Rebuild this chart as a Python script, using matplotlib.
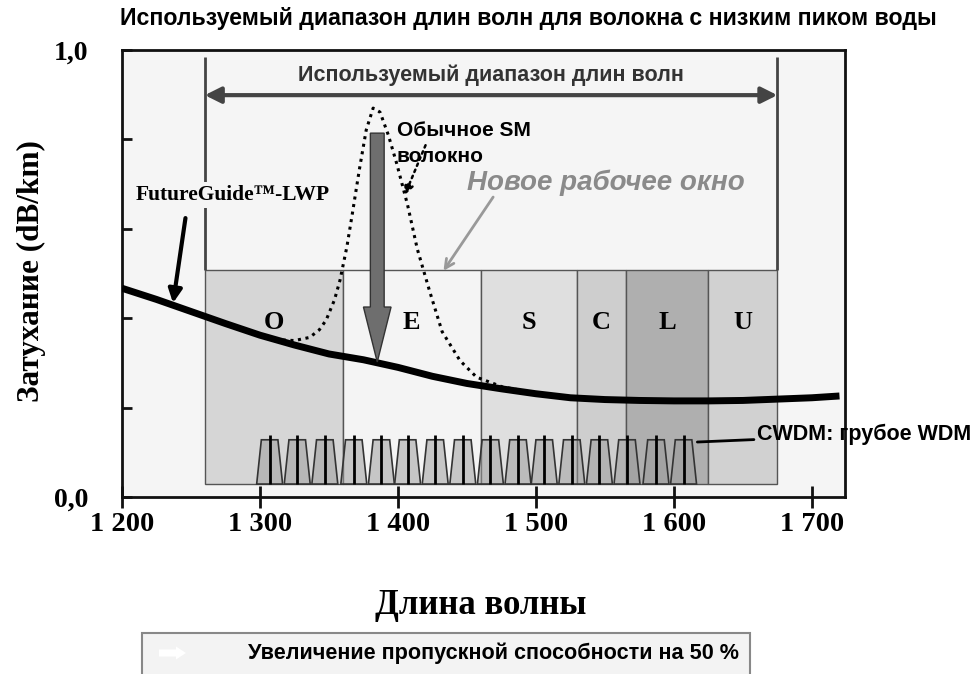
import matplotlib
matplotlib.use("Agg")
import matplotlib.pyplot as plt
from matplotlib.patches import Rectangle, Polygon, FancyArrow

# attenuation of the low water peak fibre (thick black curve)
lwp_wl = [1200, 1225, 1250, 1275, 1300, 1325, 1350, 1375, 1400, 1425, 1450,
          1475, 1500, 1525, 1550, 1575, 1600, 1625, 1650, 1675, 1700, 1720]
lwp_att = [0.467, 0.442, 0.415, 0.388, 0.362, 0.340, 0.320, 0.307, 0.290, 0.270, 0.254,
           0.242, 0.231, 0.222, 0.218, 0.216, 0.215, 0.215, 0.216, 0.219, 0.222, 0.226]

# conventional SM fibre around the water peak (dotted curve)
sm_wl = [1311, 1325, 1336, 1343, 1348, 1354, 1358, 1363, 1367, 1372, 1377, 1382,
         1387, 1393, 1399, 1407, 1414, 1423, 1432, 1445, 1457, 1476, 1500, 1520]
sm_att = [0.352, 0.350, 0.357, 0.374, 0.396, 0.441, 0.485, 0.560, 0.635, 0.732, 0.821, 0.870,
          0.861, 0.810, 0.747, 0.653, 0.555, 0.460, 0.370, 0.305, 0.268, 0.246, 0.233, 0.225]

# spectral bands
band_names = ["O", "E", "S", "C", "L", "U"]
band_start = [1260, 1360, 1460, 1530, 1565, 1625]
band_end = [1360, 1460, 1530, 1565, 1625, 1675]
band_colors = ["#d6d6d6", "#f4f4f4", "#dfdfdf", "#cecece", "#afafaf", "#d1d1d1"]

# CWDM channel centres
cwdm = [1307, 1327, 1347, 1368, 1388, 1407, 1427, 1447, 1467, 1487,
        1506, 1526, 1546, 1566, 1587, 1607]

x_ticks = [1200, 1300, 1400, 1500, 1600, 1700]
x_labels = ["1 200", "1 300", "1 400", "1 500", "1 600", "1 700"]
y_ticks = [0.0, 0.2, 0.4, 0.6, 0.8, 1.0]
y_labels = ["0,0", "", "", "", "", "1,0"]

SERIF = "Liberation Serif"
SANS = "Liberation Sans"
BG = "#f5f5f5"

band_lo, band_hi = 0.029, 0.508
span_top = 0.984

fig = plt.figure(figsize=(9.74, 6.74), dpi=100)
ax = fig.add_axes([122 / 974, 1 - 497 / 674, 723 / 974, 447 / 674])
ax.set_facecolor(BG)
ax.set_xlim(1200, 1724)
ax.set_ylim(0, 1.0)

for side in ax.spines.values():
    side.set_linewidth(2.0)
    side.set_color("#111111")

ax.set_xticks(x_ticks)
ax.set_xticklabels(x_labels, fontfamily=SERIF, fontweight="bold", fontsize=20.5)
ax.set_yticks(y_ticks)
ax.set_yticklabels(y_labels, fontfamily=SERIF, fontweight="bold", fontsize=20)
ax.tick_params(axis="x", direction="inout", length=16, width=2, pad=3, color="#111111")
ax.tick_params(axis="y", direction="in", length=7, width=2, pad=24, color="#111111")

# bands
for name, s, e, c in zip(band_names, band_start, band_end, band_colors):
    ax.add_patch(Rectangle((s, band_lo), e - s, band_hi - band_lo, facecolor=c,
                           edgecolor="#555555", lw=1, zorder=1))
    ax.text((s + e) / 2, 0.39, name, ha="center", va="center", fontfamily=SERIF,
            fontweight="bold", fontsize=19, zorder=6)

# usable range markers
ax.vlines([band_start[0], band_end[-1]], band_hi, span_top, color="#444444", lw=2, zorder=2)
ax.annotate("", xy=(band_end[-1], 0.899), xytext=(band_start[0], 0.899),
            arrowprops=dict(arrowstyle="<|-|>", color="#444444", lw=3,
                            mutation_scale=24, shrinkA=0, shrinkB=0), zorder=3)
ax.text((band_start[0] + band_end[-1]) / 2, 0.944, "Используемый диапазон длин волн",
        ha="center", va="center", fontfamily=SANS, fontweight="bold",
        fontsize=15.5, color="#333333")

# CWDM channels
for c in cwdm:
    shape = [(c - 9.4, band_lo), (c - 6, 0.128), (c + 6, 0.128), (c + 9.4, band_lo)]
    ax.add_patch(Polygon(shape, closed=True, facecolor="#999999", alpha=0.5,
                         edgecolor="none", zorder=2))
    ax.add_patch(Polygon(shape, closed=True, fill=False, edgecolor="#333333", lw=1.2, zorder=2))
ax.vlines(cwdm, band_lo, 0.139, color="black", lw=2, zorder=3)
ax.annotate("CWDM: грубое WDM", xy=(1617, 0.123), xytext=(1660, 0.139),
            fontfamily=SANS, fontweight="bold", fontsize=15.5, va="center", ha="left",
            annotation_clip=False,
            arrowprops=dict(arrowstyle="-", color="black", lw=2, shrinkA=0, shrinkB=0),
            zorder=7)

# curves
ax.plot(sm_wl, sm_att, color="black", lw=2.2, ls=(0, (1, 1.5)), zorder=4)
ax.plot(lwp_wl, lwp_att, color="black", lw=5, solid_capstyle="butt", zorder=5)

# big grey arrow: water peak removed
ax.add_patch(FancyArrow(1385, 0.814, 0, -0.512, width=10, head_width=20, head_length=0.123,
                        length_includes_head=True, facecolor="#6e6e6e", edgecolor="#333333",
                        lw=1, zorder=6))
ax.text(1399, 0.821, "Обычное SM", ha="left", va="center", fontfamily=SANS,
        fontweight="bold", fontsize=15, zorder=7)
ax.text(1399, 0.761, "волокно", ha="left", va="center", fontfamily=SANS,
        fontweight="bold", fontsize=15, zorder=7)
ax.annotate("", xy=(1405, 0.676), xytext=(1420, 0.787),
            arrowprops=dict(arrowstyle="-|>", color="black", lw=1.8, ls=":",
                            mutation_scale=14, shrinkA=0, shrinkB=0), zorder=7)

ax.text(1551, 0.702, "Новое рабочее окно", ha="center", va="center", fontfamily=SANS,
        fontweight="bold", fontstyle="italic", fontsize=20, color="#8a8a8a", zorder=7)
ax.annotate("", xy=(1433, 0.506), xytext=(1469, 0.671),
            arrowprops=dict(arrowstyle="->", color="#999999", lw=2,
                            mutation_scale=16, shrinkA=0, shrinkB=0), zorder=7)

ax.text(1280, 0.676, "FutureGuide™-LWP", ha="center", va="center", fontfamily=SERIF,
        fontweight="bold", fontsize=15.5, zorder=7,
        bbox=dict(boxstyle="square,pad=0.15", facecolor=BG, edgecolor="none"))
ax.annotate("", xy=(1237, 0.434), xytext=(1246, 0.624),
            arrowprops=dict(arrowstyle="-|>", color="black", lw=3,
                            mutation_scale=20, shrinkA=0, shrinkB=0), zorder=7)

# titles and axis labels
fig.text(120 / 974, 1 - 18 / 674, "Используемый диапазон длин волн для волокна с низким пиком воды",
         ha="left", va="center", fontfamily=SANS, fontweight="bold", fontsize=16.7)
fig.text(31 / 974, 1 - 271 / 674, "Затухание (dB/km)", rotation=90, ha="center", va="center",
         fontfamily=SERIF, fontweight="bold", fontsize=22.5)
fig.text(481 / 974, 1 - 605 / 674, "Длина волны", ha="center", va="center",
         fontfamily=SERIF, fontweight="bold", fontsize=25)

# bottom note box
fig.patches.append(Rectangle((142 / 974, -0.02), 608 / 974, (674 - 633) / 674 + 0.02,
                             transform=fig.transFigure, facecolor="#f3f3f3",
                             edgecolor="#888888", lw=1.5))
fig.patches.append(FancyArrow(159 / 974, 1 - 653 / 674, 27 / 974, 0, width=7 / 674,
                              head_width=13 / 674, head_length=10 / 974,
                              length_includes_head=True, transform=fig.transFigure,
                              facecolor="white", edgecolor="none"))
fig.text(248 / 974, 1 - 653 / 674, "Увеличение пропускной способности на 50 %",
         ha="left", va="center", fontfamily=SANS, fontweight="bold", fontsize=15.6)

fig.savefig("out.png", dpi=100)
